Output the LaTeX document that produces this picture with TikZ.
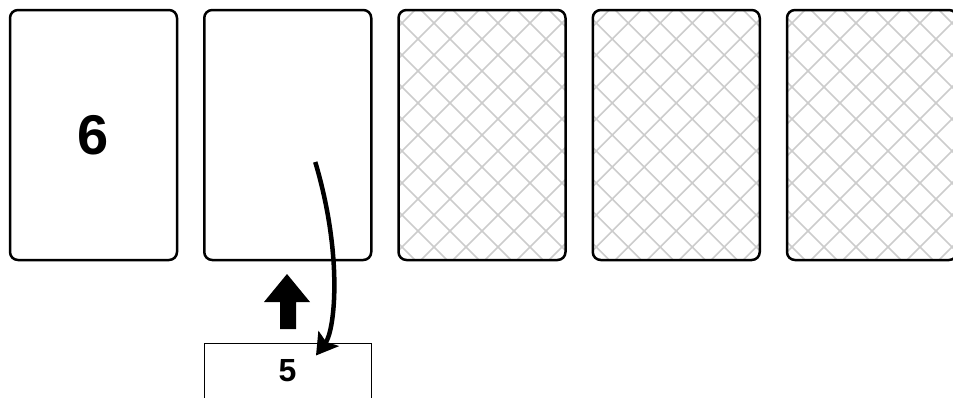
\documentclass[tikz,border=0pt]{standalone}
\usepackage{fontspec}
\newfontfamily\cardfont{Liberation Sans}
\usetikzlibrary{positioning}
\usetikzlibrary{calc}
\usetikzlibrary{arrows.meta}

\tikzset{
  card/.style={draw, line width=2.5, rounded corners=8, minimum width=167pt,
    minimum height=250pt, inner sep=0, font=\cardfont\bfseries\fontsize{56}{60}\selectfont},
  hatched/.style={path picture={
    \foreach \k in {-224,-192,...,224} {
      \draw[black!20, line width=1.5]
        ([xshift=\k pt]path picture bounding box.center) ++(-150,-150) -- ++(300,300);
      \draw[black!20, line width=1.5]
        ([xshift=\k pt]path picture bounding box.center) ++(-150,150) -- ++(300,-300);
    }}},
  pile/.style={draw, line width=1, minimum width=167pt, minimum height=56pt,
    inner sep=0, font=\cardfont\bfseries\fontsize{32}{36}\selectfont},
  turnline/.style={line width=4.5pt, -{Stealth[length=21pt, width=25pt, inset=4pt]}}
}

\begin{document}
\begin{tikzpicture}[x=1pt, y=-1pt, node distance=194.25pt, on grid]
\useasboundingbox (0,0) rectangle (953,397);

% Cards
\node[card] (c1) at (93.5,135) {6};
\node[card, right=of c1] (c2) {};
\node[card, hatched, right=of c2] (c3) {};
\node[card, hatched, right=of c3] (c4) {};
\node[card, hatched, right=of c4, minimum width=170pt, xshift=1.5pt] (c5) {};

% Pile below
\node[pile] (pile) at (287.5,371) {5};

% Block arrow
\fill (287,274) -- (310,302) -- (296,302) -- (296,329) -- (280,329) -- (280,302) -- (264,302) -- cycle;

% Flip
\draw[turnline] ($(c2.center)+(27.5,27)$) .. controls (343,255) and (335,330) .. ($(pile.north)+(28.5,13)$);

\end{tikzpicture}
\end{document}
